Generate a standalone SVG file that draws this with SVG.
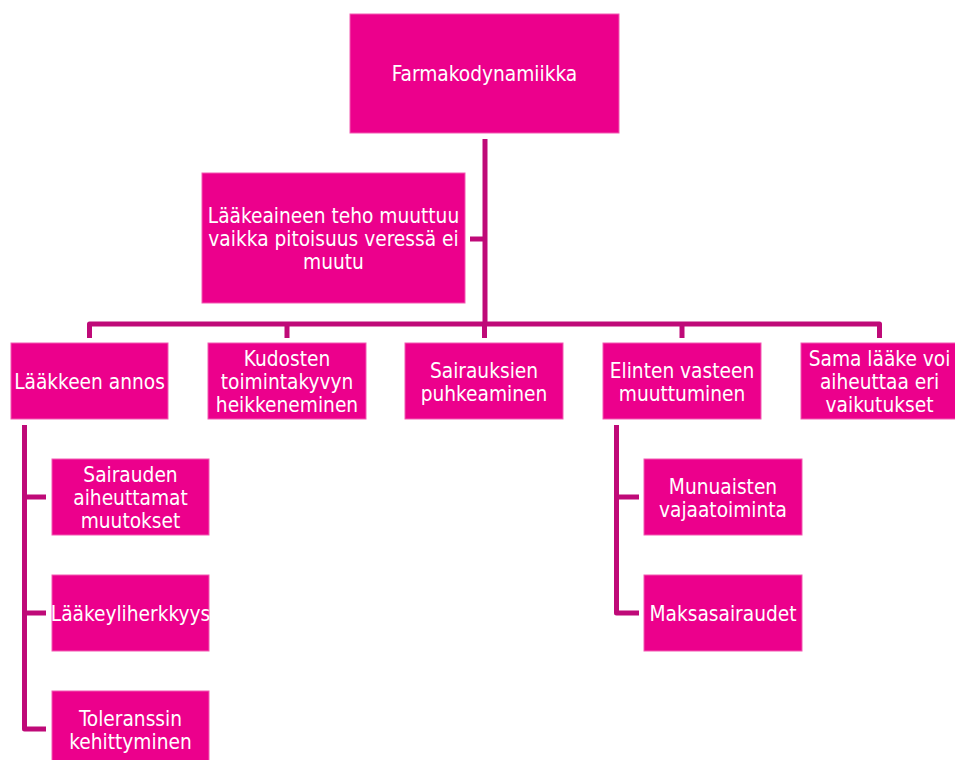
<svg xmlns="http://www.w3.org/2000/svg" width="955" height="760" viewBox="0 0 955 760">
<style>
.box{fill:#EC008C;stroke:#F25AB2;stroke-width:1}
.t{fill:#FFFFFF;font-family:"DejaVu Sans Condensed","DejaVu Sans",sans-serif;font-stretch:condensed;font-size:20.7px;text-anchor:middle}
.c{fill:none;stroke:#BF0A78;stroke-width:5;stroke-linejoin:round}
</style>
<rect width="955" height="760" fill="#FFFFFF"/>
<g id="connectors">
<path class="c" d="M485,139 V326"/>
<path class="c" d="M470,239 H485"/>
<path class="c" d="M89.5,338 V324 H879.5 V338"/>
<path class="c" d="M287,324 V338 M484.5,324 V338 M682,324 V338"/>
<path class="c" d="M24.5,425 V729 H46 M24.5,497 H46 M24.5,613 H46"/>
<path class="c" d="M616.5,425 V613 H639 M616.5,497 H639"/>
</g>
<g id="farmakodynamiikka">
<rect class="box" x="350" y="14" width="269" height="119"/>
<text class="t" x="484.5" y="81">Farmakodynamiikka</text>
</g>
<g id="teho">
<rect class="box" x="202" y="173" width="263" height="130"/>
<text class="t" x="333.5" y="223">Lääkeaineen teho muuttuu</text>
<text class="t" x="333.5" y="246">vaikka pitoisuus veressä ei</text>
<text class="t" x="333.5" y="269">muutu</text>
</g>
<g id="annos">
<rect class="box" x="11" y="343" width="157" height="76"/>
<text class="t" x="89.5" y="389">Lääkkeen annos</text>
</g>
<g id="kudosten">
<rect class="box" x="208" y="343" width="158" height="76"/>
<text class="t" x="287" y="366">Kudosten</text>
<text class="t" x="287" y="389">toimintakyvyn</text>
<text class="t" x="287" y="412">heikkeneminen</text>
</g>
<g id="sairauksien">
<rect class="box" x="405" y="343" width="158" height="76"/>
<text class="t" x="484" y="377.5">Sairauksien</text>
<text class="t" x="484" y="400.5">puhkeaminen</text>
</g>
<g id="elinten">
<rect class="box" x="603" y="343" width="158" height="76"/>
<text class="t" x="682" y="377.5">Elinten vasteen</text>
<text class="t" x="682" y="400.5">muuttuminen</text>
</g>
<g id="sama">
<rect class="box" x="801" y="343" width="157" height="76"/>
<text class="t" x="879.5" y="366">Sama lääke voi</text>
<text class="t" x="879.5" y="389">aiheuttaa eri</text>
<text class="t" x="879.5" y="412">vaikutukset</text>
</g>
<g id="sairauden">
<rect class="box" x="52" y="459" width="157" height="76"/>
<text class="t" x="130.5" y="482">Sairauden</text>
<text class="t" x="130.5" y="505">aiheuttamat</text>
<text class="t" x="130.5" y="528">muutokset</text>
</g>
<g id="yliherkkyys">
<rect class="box" x="52" y="575" width="157" height="76"/>
<text class="t" x="130.5" y="621">Lääkeyliherkkyys</text>
</g>
<g id="toleranssi">
<rect class="box" x="52" y="691" width="157" height="76"/>
<text class="t" x="130.5" y="725.5">Toleranssin</text>
<text class="t" x="130.5" y="748.5">kehittyminen</text>
</g>
<g id="munuaiset">
<rect class="box" x="644" y="459" width="158" height="76"/>
<text class="t" x="723" y="493.5">Munuaisten</text>
<text class="t" x="723" y="516.5">vajaatoiminta</text>
</g>
<g id="maksa">
<rect class="box" x="644" y="575" width="158" height="76"/>
<text class="t" x="723" y="621">Maksasairaudet</text>
</g>
</svg>
